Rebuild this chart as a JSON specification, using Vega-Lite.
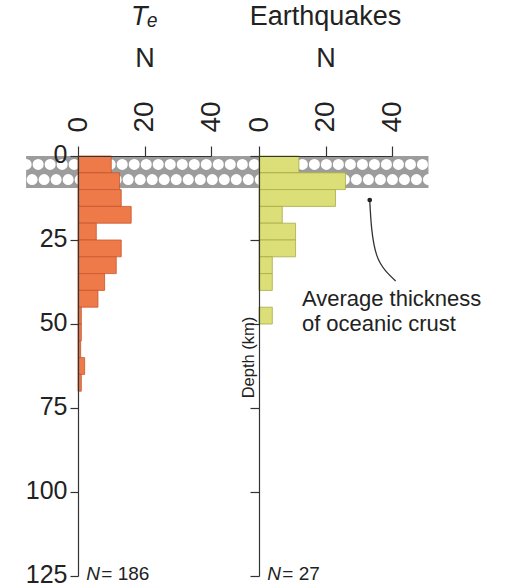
{
  "$schema": "https://vega.github.io/schema/vega-lite/v6.json",
  "padding": {"left": 20, "top": 2, "right": 5, "bottom": 0},
  "background": "white",
  "config": {
    "font": "Liberation Sans",
    "view": {"stroke": null},
    "axis": {
      "grid": false, "domainColor": "#333", "tickColor": "#333", "labelColor": "#222", "titleColor": "#222",
      "labelFontSize": 25, "titleFontSize": 27, "titleFontWeight": "normal", "zindex": 1,
      "domainWidth": 1.2, "tickWidth": 1.2
    },
    "title": {"fontSize": 27, "fontWeight": "normal", "color": "#222", "offset": 14}
  },
  "datasets": {
    "te": [
      {"d0": 0, "d1": 5, "n": 10}, {"d0": 5, "d1": 10, "n": 12.5}, {"d0": 10, "d1": 15, "n": 13},
      {"d0": 15, "d1": 20, "n": 16}, {"d0": 20, "d1": 25, "n": 5.5}, {"d0": 25, "d1": 30, "n": 13},
      {"d0": 30, "d1": 35, "n": 11.5}, {"d0": 35, "d1": 40, "n": 8}, {"d0": 40, "d1": 45, "n": 6},
      {"d0": 45, "d1": 50, "n": 1}, {"d0": 50, "d1": 55, "n": 1}, {"d0": 55, "d1": 60, "n": 0.8},
      {"d0": 60, "d1": 65, "n": 2}, {"d0": 65, "d1": 70, "n": 1}
    ],
    "eq": [
      {"d0": 0, "d1": 5, "n": 12}, {"d0": 5, "d1": 10, "n": 26}, {"d0": 10, "d1": 15, "n": 23},
      {"d0": 15, "d1": 20, "n": 7}, {"d0": 20, "d1": 25, "n": 11}, {"d0": 25, "d1": 30, "n": 11},
      {"d0": 30, "d1": 35, "n": 4}, {"d0": 35, "d1": 40, "n": 4}, {"d0": 45, "d1": 50, "n": 4}
    ],
    "arrow": [
      {"i": 1, "n": 33.3, "depth": 13.1}, {"i": 2, "n": 33.9, "depth": 21.7}, {"i": 3, "n": 35.4, "depth": 29.5},
      {"i": 4, "n": 38.1, "depth": 34.2}, {"i": 5, "n": 41.1, "depth": 37.2}
    ],
    "one": [{}]
  },
  "spacing": 48,
  "bounds": "flush",
  "hconcat": [
    {
      "width": 133, "height": 420,
      "title": {"text": "Tₑ", "fontStyle": "italic"},
      "layer": [
        {
          "data": {"name": "one"},
          "mark": {"type": "rect", "fill": "#9c9c9c", "clip": false},
          "encoding": {
            "x": {"datum": -15.6, "type": "quantitative"}, "x2": {"datum": 105.4},
            "y": {"datum": 0, "type": "quantitative"}, "y2": {"datum": 9.5}
          }
        },
        {
          "data": {"name": "one"},
          "mark": {"type": "rule", "stroke": "white", "strokeWidth": 11, "strokeCap": "round", "strokeDash": [0.01, 12], "clip": false},
          "encoding": {"x": {"datum": -15.6, "type": "quantitative"}, "x2": {"datum": 105.4}, "y": {"datum": 2.5, "type": "quantitative"}}
        },
        {
          "data": {"name": "one"},
          "mark": {"type": "rule", "stroke": "white", "strokeWidth": 11, "strokeCap": "round", "strokeDash": [0.01, 12], "clip": false},
          "encoding": {"x": {"datum": -13.8, "type": "quantitative"}, "x2": {"datum": 105.4}, "y": {"datum": 7.0, "type": "quantitative"}}
        },
        {
          "data": {"name": "te"},
          "mark": {"type": "rect", "fill": "#EE7A4A", "stroke": "#C8552C", "strokeWidth": 0.8},
          "encoding": {
            "x": {"field": "n", "type": "quantitative", "scale": {"domain": [0, 40], "nice": false},
                  "axis": {"orient": "top", "values": [0, 20, 40], "labelAngle": 270, "labelFontSize": 28, "tickSize": 10, "labelPadding": 14, "title": "N", "titlePadding": 28, "zindex": 1}},
            "x2": {"datum": 0},
            "y": {"field": "d0", "type": "quantitative", "scale": {"domain": [0, 125], "reverse": true, "nice": false},
                  "axis": {"values": [0, 25, 50, 75, 100, 125], "title": null, "tickSize": 8, "labelPadding": 3, "labelOffset": -2, "zindex": 1}},
            "y2": {"field": "d1"}
          }
        },
        {
          "data": {"name": "one"},
          "mark": {"type": "text", "text": "N", "fontStyle": "italic", "fontSize": 19, "align": "left", "baseline": "middle", "color": "#222", "clip": false},
          "encoding": {"x": {"datum": 2.5, "type": "quantitative"}, "y": {"datum": 124.5, "type": "quantitative"}}
        },
        {
          "data": {"name": "one"},
          "mark": {"type": "text", "text": "= 186", "fontSize": 19, "align": "left", "baseline": "middle", "dx": 15, "color": "#222", "clip": false},
          "encoding": {"x": {"datum": 2.5, "type": "quantitative"}, "y": {"datum": 124.5, "type": "quantitative"}}
        }
      ]
    },
    {
      "width": 133, "height": 420,
      "title": {"text": "Earthquakes"},
      "layer": [
        {
          "data": {"name": "eq"},
          "mark": {"type": "rect", "fill": "#DCDF78", "stroke": "#A9AB45", "strokeWidth": 0.8},
          "encoding": {
            "x": {"field": "n", "type": "quantitative", "scale": {"domain": [0, 40], "nice": false},
                  "axis": {"orient": "top", "values": [0, 20, 40], "labelAngle": 270, "labelFontSize": 28, "tickSize": 10, "labelPadding": 14, "title": "N", "titlePadding": 28, "zindex": 1}},
            "x2": {"datum": 0},
            "y": {"field": "d0", "type": "quantitative", "scale": {"domain": [0, 125], "reverse": true, "nice": false},
                  "axis": {"values": [0, 25, 50, 75, 100, 125], "labels": false, "tickSize": 9, "title": "Depth (km)", "titleFontSize": 16.5, "titleX": -3, "titleY": 201, "zindex": 1}},
            "y2": {"field": "d1"}
          }
        },
        {
          "data": {"name": "arrow"},
          "mark": {"type": "line", "color": "#333", "strokeWidth": 1.3, "interpolate": "natural", "clip": false},
          "encoding": {"x": {"field": "n", "type": "quantitative"}, "y": {"field": "depth", "type": "quantitative"}, "order": {"field": "i"}}
        },
        {
          "data": {"name": "one"},
          "mark": {"type": "point", "filled": true, "color": "#222", "size": 22, "opacity": 1, "clip": false},
          "encoding": {"x": {"datum": 33.3, "type": "quantitative"}, "y": {"datum": 13.1, "type": "quantitative"}}
        },
        {
          "data": {"name": "one"},
          "mark": {"type": "text", "text": ["Average thickness", "of oceanic crust"], "lineHeight": 25, "fontSize": 22, "align": "left", "baseline": "top", "color": "#222", "clip": false},
          "encoding": {"x": {"datum": 12.9, "type": "quantitative"}, "y": {"datum": 39.6, "type": "quantitative"}}
        },
        {
          "data": {"name": "one"},
          "mark": {"type": "text", "text": "N", "fontStyle": "italic", "fontSize": 19, "align": "left", "baseline": "middle", "color": "#222", "clip": false},
          "encoding": {"x": {"datum": 2.5, "type": "quantitative"}, "y": {"datum": 124.5, "type": "quantitative"}}
        },
        {
          "data": {"name": "one"},
          "mark": {"type": "text", "text": "= 27", "fontSize": 19, "align": "left", "baseline": "middle", "dx": 15, "color": "#222", "clip": false},
          "encoding": {"x": {"datum": 2.5, "type": "quantitative"}, "y": {"datum": 124.5, "type": "quantitative"}}
        }
      ]
    }
  ]
}
